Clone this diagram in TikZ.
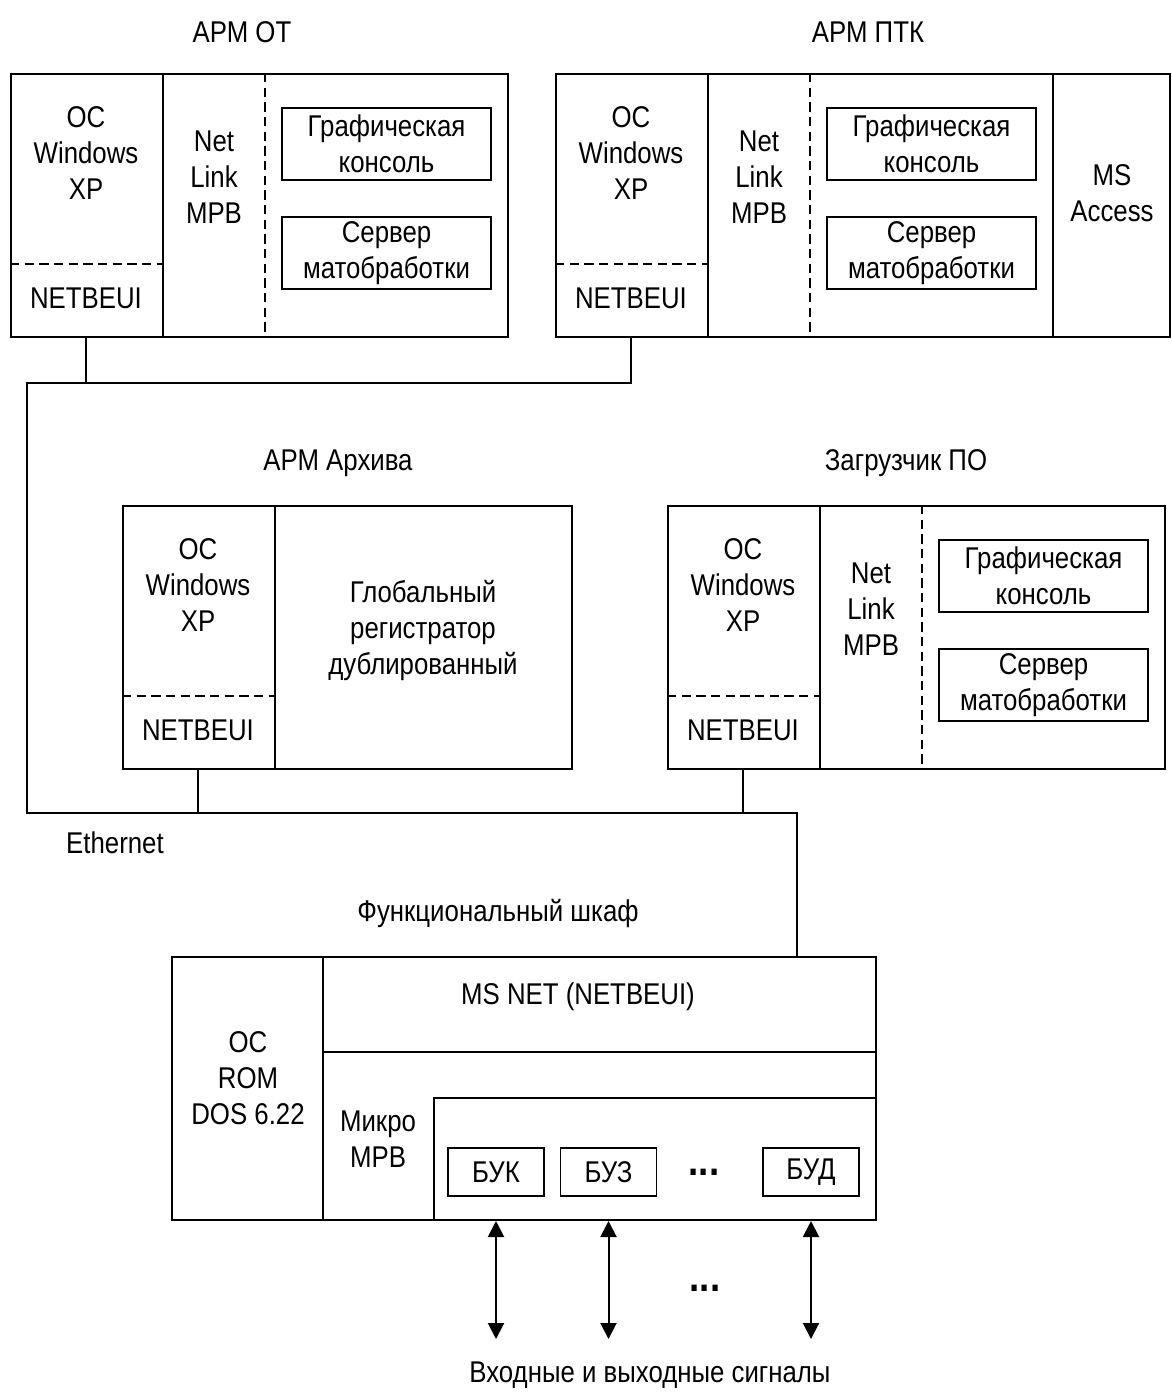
\documentclass[tikz,border=0pt]{standalone}
\usepackage{fontspec}
\setmainfont{Liberation Sans}[FakeStretch=0.86]
\usetikzlibrary{arrows.meta,calc}
\def\u{0.75pt}

\begin{document}
\begin{tikzpicture}[x=0.75pt,y=-0.75pt,
  every node/.style={font=\fontsize{22.5pt}{27pt}\selectfont},
  box/.style={draw,line width=1.5pt,inner sep=0pt,anchor=north west},
  inbox/.style={draw,line width=1.2pt,inner sep=0pt,align=center,
    minimum width=209*\u,minimum height=72*\u},
  blk/.style={draw,line width=1.2pt,inner sep=0pt,
    minimum width=96*\u,minimum height=48*\u},
  txt/.style={align=center,inner sep=0pt},
  dots/.style={inner sep=0pt,font=\fontsize{32pt}{32pt}\selectfont\bfseries},
  wire/.style={line width=1.5pt},
  dline/.style={line width=1.2pt,dash pattern=on 7pt off 4pt},
  sig/.style={line width=1.5pt,
    {Triangle[width=12pt,length=12pt]}-{Triangle[width=12pt,length=12pt]}}]
\useasboundingbox (0,0) rectangle (1171,1398);

% workstations with the same layout
\foreach \nm/\X/\Y in {ot/10/73, ptk/555/73, zg/667/505}{
  \begin{scope}[shift={(\X,\Y)}]
    \node[box,minimum width=497*\u,minimum height=263*\u] (\nm) at (0,0) {};
    \draw[wire] (153,0) -- (153,263);
    \draw[dline] (255,0) -- (255,263);
    \draw[dline] (0,191) -- (153,191);
    \node[txt] (\nm os) at (76,80) {ОС\\Windows\\XP};
    \node[txt] (\nm nb) at (76,225) {NETBEUI};
    \node[txt] (\nm nl) at (204,104) {Net\\Link\\МРВ};
    \node[inbox] (\nm gk) at (376.5,71) {Графическая\\консоль};
    \node[inbox] (\nm sm) at (376.5,180) {Сервер\\матобработки};
  \end{scope}
}
% extra column of ARM PTK
\node[box,minimum width=117*\u,minimum height=263*\u] (ptkms) at (1052,73) {};
\node[txt] (ptkac) at (1112,193) {MS\\Access};

% archive workstation
\node[box,minimum width=449*\u,minimum height=263*\u] (ar) at (122,505) {};
\draw[wire] (275,505) -- (275,768);
\draw[dline] (122,696) -- (275,696);
\node[txt] (aros) at (198,585) {ОС\\Windows\\XP};
\node[txt] (arnb) at (198,730) {NETBEUI};
\node[txt] (argr) at (423,630) {Глобальный\\регистратор\\дублированный};

% titles
\node[txt] (tot) at (242,32) {АРМ ОТ};
\node[txt] (tptk) at (868,32) {АРМ ПТК};
\node[txt] (tar) at (338,463) {АРМ Архива};
\node[txt] (tzg) at (906,463) {Загрузчик ПО};
\node[txt] (teth) at (115,843) {Ethernet};
\node[txt] (tfs) at (498,913) {Функциональный шкаф};

% functional cabinet
\node[box,minimum width=704*\u,minimum height=263*\u] (fs) at (171,956) {};
\draw[wire] (323,956) -- (323,1219);
\draw[wire] (323,1052) -- (875,1052);
\node[box,minimum width=442*\u,minimum height=122*\u] (fsmr) at (433,1097) {};
\node[txt] (fsos) at (248,1078) {ОС\\ROM\\DOS 6.22};
\node[txt] (fsnet) at (578,997) {MS NET (NETBEUI)};
\node[txt] (fsmk) at (378,1139) {Микро\\МРВ};
\node[blk] (buk) at (496,1172) {БУК};
\node[blk] (buz) at (608.5,1172) {БУЗ};
\node[blk] (bud) at (811,1172) {БУД};
\node[dots] (dots1) at (704,1172) {...};

% signals
\coordinate (sig) at (650,1339);
\foreach \b in {buk,buz,bud}
  \draw[sig] (\b |- fs.south) -- (\b |- sig);
\node[dots] (dots2) at (705,1288) {...};
\node[txt] (sigtx) at (650,1375) {Входные и выходные сигналы};

% Ethernet bus
\coordinate (eth1) at (27,383);
\coordinate (eth2) at (797,813);
\draw[wire] (ptknb |- ptk.south) |- (eth1) |- (eth2) -- (eth2 |- fs.north);
\draw[wire] (otnb |- ot.south) -- (otnb |- eth1);
\draw[wire] (arnb |- ar.south) -- (arnb |- eth2);
\draw[wire] (zgnb |- zg.south) -- (zgnb |- eth2);
\end{tikzpicture}
\end{document}
